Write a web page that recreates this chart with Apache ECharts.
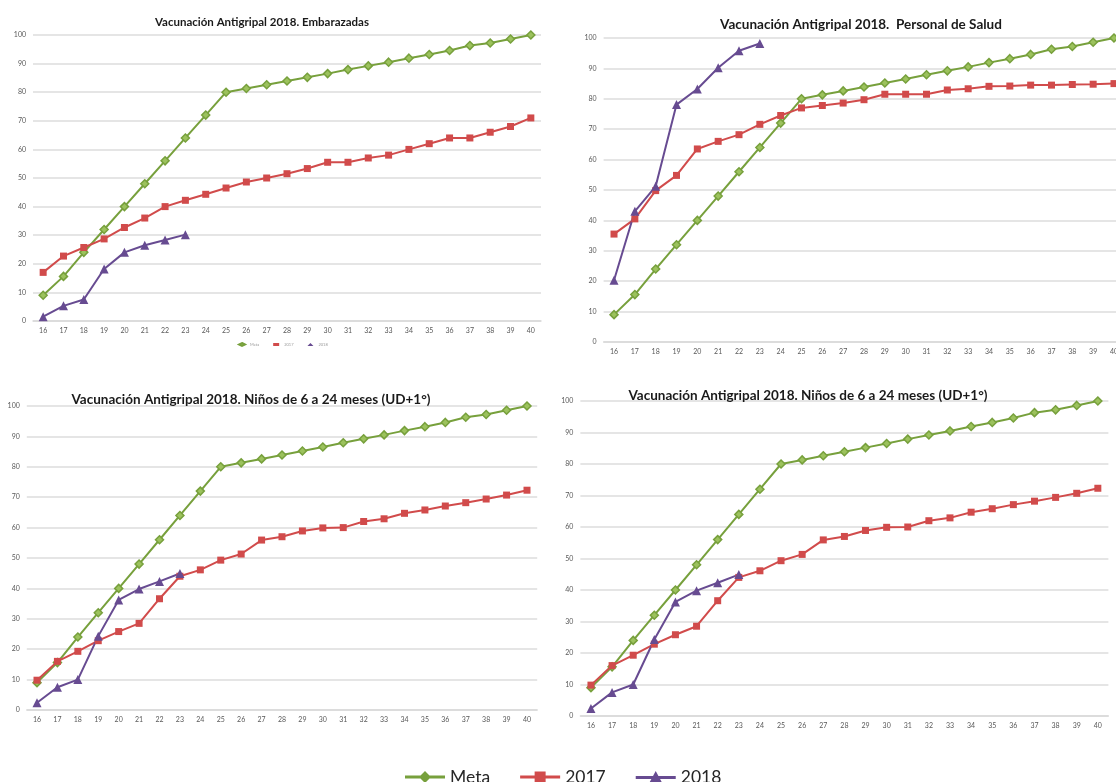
<!DOCTYPE html>
<html>
<head>
<meta charset="utf-8">
<script src="https://cdn.jsdelivr.net/npm/echarts@6/dist/echarts.min.js"></script>
<style>
  html, body { margin: 0; padding: 0; background: #ffffff; overflow: hidden; }
  #chart { width: 1140px; height: 782px; }
</style>
</head>
<body>
<div id="chart"></div>
<script>
// Epidemiological weeks on the x axis
const weeks = ['16','17','18','19','20','21','22','23','24','25','26','27','28','29','30','31','32','33','34','35','36','37','38','39','40'];
const yTicks = [0, 10, 20, 30, 40, 50, 60, 70, 80, 90, 100];

// Cumulative coverage target (%)
const meta = [9, 15.6, 24, 32, 40, 48, 56, 64, 72, 80, 81.3, 82.6, 83.9, 85.2, 86.5, 87.9, 89.2, 90.5, 91.9, 93.2, 94.6, 96.3, 97.2, 98.6, 100];

// Embarazadas
const emb2017 = [17, 22.7, 25.7, 28.7, 32.7, 36, 40, 42.2, 44.3, 46.5, 48.6, 50, 51.5, 53.3, 55.5, 55.5, 57, 58, 60, 62, 64, 64, 66, 68, 71];
const emb2018 = [1.5, 5.3, 7.5, 18.2, 24, 26.5, 28.3, 30.2];

// Personal de Salud
const salud2017 = [35.5, 40.5, 49.8, 54.8, 63.5, 66, 68.2, 71.6, 74.5, 77, 77.8, 78.6, 79.7, 81.5, 81.5, 81.5, 82.9, 83.3, 84.1, 84.2, 84.5, 84.5, 84.7, 84.8, 85];
const salud2018 = [20.3, 43, 51.2, 78.1, 83.2, 90.2, 95.8, 98.2];

// Niños de 6 a 24 meses
const ninos2017 = [9.8, 16, 19.3, 22.8, 25.8, 28.5, 36.6, 44, 46.1, 49.3, 51.3, 55.9, 57, 58.9, 59.9, 60, 62, 62.9, 64.7, 65.8, 67.1, 68.2, 69.4, 70.7, 72.3];
const ninos2018 = [2.4, 7.5, 10, 24.3, 36.2, 39.8, 42.3, 44.9];

const titles = [
  'Vacunación Antigripal 2018. Embarazadas',
  'Vacunación Antigripal 2018.  Personal de Salud',
  'Vacunación Antigripal 2018. Niños de 6 a 24 meses (UD+1°)',
  'Vacunación Antigripal 2018. Niños de 6 a 24 meses (UD+1°)'
];
const panels = [
  { y2017: emb2017, y2018: emb2018 },
  { y2017: salud2017, y2018: salud2018 },
  { y2017: ninos2017, y2018: ninos2018 },
  { y2017: ninos2017, y2018: ninos2018 }
];

const GREEN = '#77a03c', RED = '#d14b4b', PURPLE = '#674b91';
const FONT = 'Lato, "Open Sans", sans-serif';

// panel frames: plot area and title placement
const frames = [
  { left: 33,    top: 35,  width: 508,   height: 286, tx: 257, ty: 11, ts: 11.5 },
  { left: 603.6, top: 38,  width: 520.8, height: 304, tx: 856, ty: 13, ts: 13.5 },
  { left: 26.8,  top: 406, width: 510.4, height: 304, tx: 246, ty: 388, ts: 13.5 },
  { left: 580.4, top: 401, width: 528,   height: 315, tx: 803, ty: 384, ts: 13.5 }
];

const grid = [], xAxis = [], yAxis = [], series = [], title = [];
frames.forEach((f, i) => {
  grid.push({ left: f.left, top: f.top, width: f.width, height: f.height, containLabel: false });
  title.push({
    text: titles[i], left: f.tx, top: f.ty, textAlign: 'center',
    textStyle: { fontFamily: FONT, fontWeight: 'bold', fontSize: f.ts, color: '#1a1a1a' }
  });
  xAxis.push({
    type: 'category', gridIndex: i, data: weeks, boundaryGap: true,
    axisLine: { lineStyle: { color: '#d9d9d9', width: 1.5 } },
    axisTick: { show: false },
    axisLabel: { fontFamily: FONT, fontSize: 7, color: '#595959', margin: 6, interval: 0 }
  });
  yAxis.push({
    type: 'value', gridIndex: i,
    min: yTicks[0], max: yTicks[yTicks.length - 1], interval: yTicks[1] - yTicks[0],
    axisLine: { show: false }, axisTick: { show: false },
    axisLabel: { fontFamily: FONT, fontSize: 7, color: '#595959', margin: 7 },
    splitLine: { lineStyle: { color: '#dcdcdc', width: 1.5 } }
  });
  const p = panels[i];
  series.push({
    name: 'Meta', type: 'line', xAxisIndex: i, yAxisIndex: i, data: meta,
    symbol: 'diamond', symbolSize: 8,
    lineStyle: { color: GREEN, width: 2 },
    itemStyle: { color: '#9cc25d', borderColor: GREEN, borderWidth: 1.5 },
    emphasis: { disabled: true }, animation: false
  });
  series.push({
    name: '2017', type: 'line', xAxisIndex: i, yAxisIndex: i, data: p.y2017,
    symbol: 'rect', symbolSize: 7,
    lineStyle: { color: RED, width: 2 },
    itemStyle: { color: RED },
    emphasis: { disabled: true }, animation: false
  });
  series.push({
    name: '2018', type: 'line', xAxisIndex: i, yAxisIndex: i, data: p.y2018,
    symbol: 'triangle', symbolSize: 9,
    lineStyle: { color: PURPLE, width: 2 },
    itemStyle: { color: PURPLE },
    emphasis: { disabled: true }, animation: false
  });
});

// legend glyphs: a short line with the series marker in the middle
const ICON_META = 'path://M0,5 H40 V8 H0 Z M20,0.5 L26,6.5 L20,12.5 L14,6.5 Z';
const ICON_2017 = 'path://M0,5 H40 V8 H0 Z M14.5,1 H25.5 V12 H14.5 Z';
const ICON_2018 = 'path://M0,5 H40 V8 H0 Z M20,0 L26.5,12 H13.5 Z';

const bigLegend = [
  { name: 'Meta', icon: ICON_META, itemStyle: { color: GREEN, borderWidth: 0 } },
  { name: '2017', icon: ICON_2017, itemStyle: { color: RED, borderWidth: 0 } },
  { name: '2018', icon: ICON_2018, itemStyle: { color: PURPLE, borderWidth: 0 } }
];
const smallLegend = [
  { name: 'Meta', icon: 'diamond' },
  { name: '2017', icon: 'rect' },
  { name: '2018', icon: 'triangle' }
];

const option = {
  backgroundColor: '#ffffff',
  animation: false,
  title: title,
  grid: grid,
  xAxis: xAxis,
  yAxis: yAxis,
  legend: [
    {
      data: bigLegend, left: 400, top: 763, itemGap: 30,
      itemWidth: 40, itemHeight: 12,
      textStyle: { fontFamily: FONT, fontSize: 17.5, color: '#262626' }
    },
    {
      data: smallLegend, left: 233, top: 337, itemGap: 14,
      itemWidth: 6, itemHeight: 3,
      textStyle: { fontFamily: FONT, fontSize: 4, color: '#9a9a9a' }
    }
  ],
  series: series
};

const chart = echarts.init(document.getElementById('chart'), null, { renderer: 'canvas' });
chart.setOption(option);
</script>
</body>
</html>
